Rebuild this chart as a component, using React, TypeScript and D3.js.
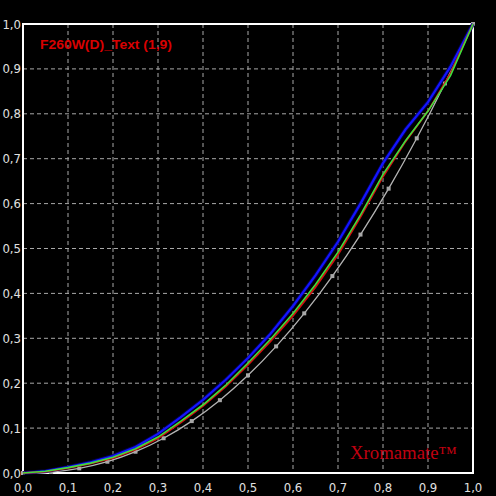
import React, { useEffect } from "react";
import { scaleLinear, line, curveMonotoneX } from "d3";

// measured curves, sampled every 0.05
const measX = [0, 0.05, 0.1, 0.15, 0.2, 0.25, 0.3, 0.35, 0.4, 0.45, 0.5, 0.55, 0.6, 0.65, 0.7, 0.75, 0.8, 0.85, 0.9, 0.95, 1];
const blueY = [0, 0.004, 0.013, 0.024, 0.038, 0.058, 0.087, 0.124, 0.163, 0.207, 0.256, 0.31, 0.372, 0.44, 0.515, 0.6, 0.69, 0.765, 0.826, 0.905, 1];
const greenY = [0, 0.004, 0.012, 0.022, 0.035, 0.054, 0.08, 0.115, 0.152, 0.195, 0.245, 0.298, 0.355, 0.42, 0.492, 0.575, 0.665, 0.74, 0.806, 0.885, 1];
const redY = [0, 0.003, 0.011, 0.021, 0.033, 0.052, 0.077, 0.112, 0.149, 0.192, 0.241, 0.293, 0.35, 0.414, 0.486, 0.57, 0.66, 0.738, 0.806, 0.89, 1];

// reference curve with markers
const refX = [0, 0.0625, 0.125, 0.1875, 0.25, 0.3125, 0.375, 0.4375, 0.5, 0.5625, 0.625, 0.6875, 0.75, 0.8125, 0.875, 0.9375, 1];
const refY = [0, 0.0022, 0.0103, 0.0251, 0.0474, 0.0774, 0.1156, 0.1622, 0.2176, 0.282, 0.3556, 0.4386, 0.531, 0.6333, 0.7454, 0.8676, 1];

const ticks = [0, 0.1, 0.2, 0.3, 0.4, 0.5, 0.6, 0.7, 0.8, 0.9, 1];
const tickLabels = ["0,0", "0,1", "0,2", "0,3", "0,4", "0,5", "0,6", "0,7", "0,8", "0,9", "1,0"];

const title = "F260W(D)_Text (1,9)";
const watermark = "Xromamate\u2122";

const W = 496;
const H = 496;
const margin = { left: 23, right: 23, top: 24, bottom: 23 };

const App: React.FC = () => {
	useEffect(() => {
		document.body.style.margin = "0";
		document.body.style.background = "#000";
	}, []);

	const x = scaleLinear().domain([0, 1]).range([margin.left, W - margin.right]);
	const y = scaleLinear().domain([0, 1]).range([H - margin.bottom, margin.top]);

	const pathOf = (xs: number[], ys: number[], smooth = false) => {
		const gen = line<number>()
			.x((_, i) => x(xs[i]))
			.y((d) => y(d));
		if (smooth) gen.curve(curveMonotoneX);
		return gen(ys) || "";
	};

	const labelFont = "'Liberation Sans Narrow', 'DejaVu Sans Condensed', sans-serif";

	return (
		<div style={{ width: W, height: H, background: "#000" }}>
			<svg width={W} height={H} style={{ display: "block" }}>
				<rect width={W} height={H} fill="#000" />

				{/* grid */}
				{ticks.slice(1, -1).map((t) => (
					<g key={t} stroke="#a8a8a8" strokeWidth={1} strokeDasharray="4,3">
						<line x1={x(t)} x2={x(t)} y1={y(1)} y2={y(0)} />
						<line x1={x(0)} x2={x(1)} y1={y(t)} y2={y(t)} />
					</g>
				))}

				{/* frame */}
				<rect
					x={x(0)}
					y={y(1)}
					width={x(1) - x(0)}
					height={y(0) - y(1)}
					fill="none"
					stroke="#fff"
					strokeWidth={2}
				/>

				{/* tick labels */}
				{ticks.map((t, i) => (
					<text
						key={"x" + t}
						x={x(t)}
						y={487}
						dy="0.35em"
						textAnchor="middle"
						fill="#e0e0e0"
						fontSize={13}
						fontFamily={labelFont}>
						{tickLabels[i]}
					</text>
				))}
				{ticks.map((t, i) => (
					<text
						key={"y" + t}
						x={21}
						y={y(t)}
						dy="0.35em"
						textAnchor="end"
						fill="#e0e0e0"
						fontSize={13}
						fontFamily={labelFont}>
						{tickLabels[i]}
					</text>
				))}

				{/* reference curve */}
				<path d={pathOf(refX, refY, true)} fill="none" stroke="#b4b4b4" strokeWidth={1.3} />
				{refX.map((v, i) => (
					<rect
						key={"m" + i}
						x={x(v) - 2}
						y={y(refY[i]) - 2}
						width={4}
						height={4}
						fill="#a8a8a8"
					/>
				))}

				{/* measured curves */}
				<path d={pathOf(measX, blueY)} fill="none" stroke="#000060" strokeWidth={4} strokeOpacity={0.8} />
				<path d={pathOf(measX, blueY)} fill="none" stroke="#1414ff" strokeWidth={2.2} />
				<path d={pathOf(measX, redY)} fill="none" stroke="#d01010" strokeWidth={1.8} />
				<path d={pathOf(measX, greenY)} fill="none" stroke="#3ee03e" strokeWidth={1.6} />

				{/* title */}
				<text
					x={40}
					y={49}
					fill="#d80000"
					fontSize={12}
					fontWeight="bold"
					fontFamily="'Liberation Sans', 'DejaVu Sans', sans-serif"
					textLength={132}
					lengthAdjust="spacingAndGlyphs">
					{title}
				</text>

				{/* watermark */}
				<text
					x={350}
					y={459}
					fill="#c00010"
					fontSize={18}
					fontFamily="'Liberation Serif', 'DejaVu Serif', serif"
					textLength={107}
					lengthAdjust="spacingAndGlyphs">
					{watermark}
				</text>
			</svg>
		</div>
	);
};

export default App;
